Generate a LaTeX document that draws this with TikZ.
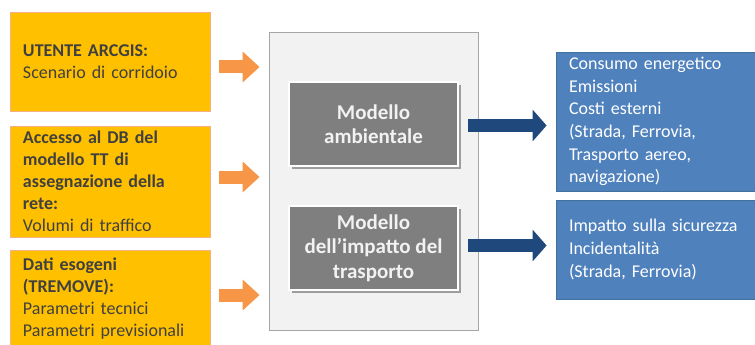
\documentclass[tikz,border=0pt]{standalone}
\usepackage{fontspec}
\setmainfont{Carlito}
\usetikzlibrary{arrows.meta,shadows}
\definecolor{ofill}{HTML}{FFC000}
\definecolor{oline}{HTML}{F4B183}
\definecolor{oarr}{HTML}{F79646}
\definecolor{otext}{HTML}{404040}
\definecolor{cfill}{HTML}{F2F2F2}
\definecolor{cline}{HTML}{A6A6A6}
\definecolor{gfill}{HTML}{7F7F7F}
\definecolor{bfill}{HTML}{4F81BD}
\definecolor{bline}{HTML}{41719C}
\definecolor{barr}{HTML}{1F497D}
\tikzset{
  inbox/.style={draw=oline, line width=0.8pt, fill=ofill, text=otext, minimum width=200pt,
    text width=174pt, inner xsep=13pt, inner ysep=0pt, align=left,
    font=\fontsize{18}{22}\selectfont},
  outbox/.style={draw=bline, line width=0.8pt, fill=bfill, text=white, minimum width=214pt,
    text width=188pt, inner xsep=13pt, inner ysep=0pt, align=left,
    font=\fontsize{18}{22.7}\selectfont},
  modbox/.style={draw=white, line width=2pt, fill=gfill, text=cfill, minimum width=169pt,
    minimum height=84pt, align=center, font=\bfseries\fontsize{21}{24.5}\selectfont,
    drop shadow={shadow xshift=2.5pt, shadow yshift=-2.5pt, fill=black, opacity=0.35}},
  container/.style={draw=cline, line width=0.9pt, fill=cfill, minimum width=209pt, minimum height=298pt},
  oarrow/.style={draw=oarr, line width=13pt, -{Triangle[width=30pt,length=17pt]}},
  barrow/.style={draw=barr, line width=13pt, -{Triangle[width=31pt,length=14pt]}},
}
\begin{document}
\begin{tikzpicture}[x=1pt,y=-1pt]
\useasboundingbox (0,0) rectangle (755,345);
% input boxes
\node[inbox, minimum height=99pt] (o1) at (110,61.5) {\textbf{UTENTE ARCGIS:}\\Scenario di corridoio};
\node[inbox, minimum height=111pt] (o2) at (110,181.5) {\textbf{Accesso al DB del}\\\textbf{modello TT di}\\\textbf{assegnazione della}\\\textbf{rete:}\\Volumi di traffico};
\node[inbox, minimum height=98pt] (o3) at (110,299) {\textbf{Dati esogeni}\\\textbf{(TREMOVE):}\\Parametri tecnici\\Parametri previsionali};
% container
\node[container] (c) at (373.5,181) {};
\node[modbox] (m1) at (373.5,124) {Modello\\ambientale};
\node[modbox] (m2) at (373.5,248) {Modello\\dell’impatto del\\trasporto};
% output boxes
\node[outbox, minimum height=139pt] (b1) at (663,121.5) {Consumo energetico\\Emissioni\\Costi esterni\\(Strada, Ferrovia,\\Trasporto aereo,\\navigazione)};
\node[outbox, minimum height=99pt] (b2) at (663,249.5) {Impatto sulla sicurezza\\Incidentalità\\(Strada, Ferrovia)};
% arrows
\draw[oarrow] ([xshift=9pt]o1.east |- 0,67) -- ([xshift=-9pt]c.west |- 0,67);
\draw[oarrow] ([xshift=9pt]o2.east |- 0,177) -- ([xshift=-9pt]c.west |- 0,177);
\draw[oarrow] ([xshift=9pt]o3.east |- 0,295) -- ([xshift=-9pt]c.west |- 0,295);
\draw[barrow] ([xshift=9pt]m1.east |- 0,125.5) -- ([xshift=-9pt]b1.west |- 0,125.5);
\draw[barrow] ([xshift=9pt]m2.east |- 0,245.5) -- ([xshift=-9pt]b2.west |- 0,245.5);
\end{tikzpicture}
\end{document}
